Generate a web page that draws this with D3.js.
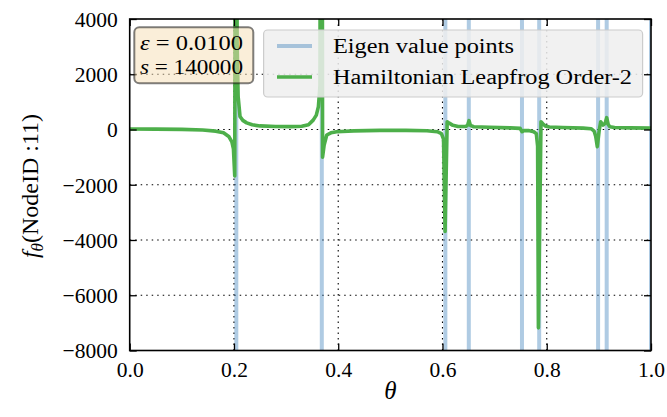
<!DOCTYPE html>
<html><head><meta charset="utf-8">
<script src="https://cdn.jsdelivr.net/npm/d3@7"></script>
<style>body{margin:0;background:#fff}svg{display:block}</style>
</head><body>
<svg id="chart" width="667" height="417"></svg>
<script>
// ---- data ----
const eigenThetas = [0.2045, 0.3685, 0.6055, 0.6505, 0.7525, 0.7855, 0.8985, 0.915, 1.0];
const curveTheta = [0.000, 0.050, 0.100, 0.140, 0.165, 0.180, 0.190, 0.196, 0.199, 0.2015, 0.2045, 0.2060, 0.2080, 0.2116, 0.2170, 0.2244, 0.235, 0.250, 0.280, 0.310, 0.330, 0.343, 0.352, 0.358, 0.362, 0.365, 0.3670, 0.3680, 0.3700, 0.3730, 0.3780, 0.3860, 0.3970, 0.430, 0.480, 0.530, 0.570, 0.590, 0.598, 0.602, 0.605, 0.6090, 0.6130, 0.6200, 0.630, 0.645, 0.6485, 0.651, 0.6535, 0.660, 0.690, 0.730, 0.749, 0.7525, 0.7560, 0.765, 0.775, 0.780, 0.7825, 0.784, 0.7890, 0.7930, 0.7970, 0.805, 0.830, 0.870, 0.885, 0.891, 0.894, 0.897, 0.9005, 0.9035, 0.908, 0.912, 0.915, 0.918, 0.921, 0.930, 0.960, 1.000];
const curveValue = [20, 15, 5, -20, -60, -120, -250, -450, -700, -1680, 30000, 3200, 1200, 470, 330, 240, 170, 130, 110, 105, 115, 170, 340, 520, 830, 1600, 30000, 30000, -1000, -560, -200, -120, -80, -50, -30, -30, -45, -80, -150, -350, -3690, 280, 230, 150, 110, 110, 170, 320, 150, 100, 80, 60, 40, -80, -40, -40, -80, -150, -600, -7180, 280, 200, 130, 90, 70, 50, 30, -60, -250, -620, -50, 280, 160, 220, 430, 180, 100, 70, 60, 50];
const xTicks = [0.0, 0.2, 0.4, 0.6, 0.8, 1.0];
const yTicks = [-8000, -6000, -4000, -2000, 0, 2000, 4000];
const legendLabels = ["Eigen value points", "Hamiltonian Leapfrog Order-2"];
const boxLines = [["ε", " = 0.0100"], ["s", " = 140000"]];

// ---- layout ----
const svg = d3.select("#chart");
const L = 129.7, R = 651, T = 19, B = 350.5;
const x = d3.scaleLinear().domain([0, 1]).range([L, R]);
const y = d3.scaleLinear().domain([-8000, 4000]).range([B, T]);
const serif = "'Liberation Serif', 'Times New Roman', serif";
const blue = "#377eb8", green = "#4daf4a";

svg.append("defs").append("clipPath").attr("id", "clip")
  .append("rect").attr("x", L).attr("y", T).attr("width", R - L).attr("height", B - T);

// grid
const grid = svg.append("g").attr("stroke", "#000").attr("stroke-width", 1.1).attr("stroke-dasharray", "1.5,4");
grid.selectAll(".gx").data(xTicks.slice(1, -1)).join("line")
  .attr("x1", d => x(d)).attr("x2", d => x(d)).attr("y1", T).attr("y2", B);
grid.selectAll(".gy").data(yTicks.slice(1, -1)).join("line")
  .attr("x1", L).attr("x2", R).attr("y1", d => y(d)).attr("y2", d => y(d));

const plot = svg.append("g").attr("clip-path", "url(#clip)");
// eigen lines
plot.selectAll(".eig").data(eigenThetas).join("line")
  .attr("x1", d => x(d)).attr("x2", d => x(d)).attr("y1", T - 5).attr("y2", B + 5)
  .attr("stroke", blue).attr("stroke-opacity", 0.4).attr("stroke-width", 4);
// curve
const pts = curveTheta.map((t, i) => [t, curveValue[i]]);
plot.append("path").datum(pts)
  .attr("d", d3.line().x(d => x(d[0])).y(d => y(d[1])))
  .attr("fill", "none").attr("stroke", green).attr("stroke-width", 3.6)
  .attr("stroke-linejoin", "round");

// axes with inward ticks
const fmtX = d3.format(".1f");
const axB = svg.append("g").attr("transform", `translate(0,${B})`)
  .call(d3.axisBottom(x).tickValues(xTicks).tickFormat(fmtX).tickSizeInner(-7).tickSizeOuter(0).tickPadding(11));
const axT = svg.append("g").attr("transform", `translate(0,${T})`)
  .call(d3.axisTop(x).tickValues(xTicks).tickFormat("").tickSizeInner(-7).tickSizeOuter(0));
const axL = svg.append("g").attr("transform", `translate(${L},0)`)
  .call(d3.axisLeft(y).tickValues(yTicks).tickFormat(d3.format("d")).tickSizeInner(-7).tickSizeOuter(0).tickPadding(12));
const axR = svg.append("g").attr("transform", `translate(${R},0)`)
  .call(d3.axisRight(y).tickValues(yTicks).tickFormat("").tickSizeInner(-7).tickSizeOuter(0));
[axB, axT, axL, axR].forEach(a => {
  a.select(".domain").remove();
  a.selectAll(".tick line").attr("stroke", "#000").attr("stroke-width", 1.3);
  a.selectAll("text").attr("font-family", serif).attr("font-size", 21.5).attr("fill", "#000");
});
axB.selectAll("text").attr("dy", "0.71em");
axL.selectAll("text").attr("dy", "0.34em");
svg.append("rect").attr("x", L).attr("y", T).attr("width", R - L).attr("height", B - T)
  .attr("fill", "none").attr("stroke", "#000").attr("stroke-width", 1.6);

// axis labels
svg.append("text").attr("x", x(0.5)).attr("y", 399).attr("text-anchor", "middle")
  .attr("font-family", serif).attr("font-size", 25).attr("font-style", "italic").text("θ");
const yl = svg.append("text").attr("transform", "translate(38,186) rotate(-90)")
  .attr("text-anchor", "middle").attr("font-family", serif).attr("font-size", 24);
yl.append("tspan").attr("font-style", "italic").text("f");
yl.append("tspan").attr("font-style", "italic").attr("font-size", 17).attr("dy", 5).text("θ");
yl.append("tspan").attr("dy", -5).text("(NodeID :11)");

// text box
svg.append("rect").attr("x", 134.3).attr("y", 27.3).attr("width", 119).attr("height", 56).attr("rx", 5)
  .attr("fill", "#f5deb3").attr("fill-opacity", 0.5).attr("stroke", "#000").attr("stroke-opacity", 0.5).attr("stroke-width", 2);
boxLines.forEach((ln, i) => {
  const t = svg.append("text").attr("x", 140).attr("y", 50 + i * 23.5)
    .attr("font-family", serif).attr("font-size", 21).attr("fill", "#000")
    .attr("textLength", 103).attr("lengthAdjust", "spacingAndGlyphs");
  t.append("tspan").attr("font-style", "italic").text(ln[0]);
  t.append("tspan").text(ln[1]);
});

// legend
const lg = svg.append("g");
lg.append("rect").attr("x", 263.6).attr("y", 30).attr("width", 379).attr("height", 67).attr("rx", 4)
  .attr("fill", "#efefef").attr("fill-opacity", 0.85).attr("stroke", "#cccccc").attr("stroke-width", 1.2);
const lgColors = [[blue, 0.4], [green, 1]];
legendLabels.forEach((lab, i) => {
  const yy = 46 + i * 31;
  lg.append("line").attr("x1", 277).attr("x2", 312).attr("y1", yy).attr("y2", yy)
    .attr("stroke", lgColors[i][0]).attr("stroke-opacity", lgColors[i][1]).attr("stroke-width", i ? 3.6 : 4);
  lg.append("text").attr("x", 333).attr("y", yy + 7).attr("font-family", serif).attr("font-size", 20)
    .attr("textLength", i ? 299 : 181).attr("lengthAdjust", "spacingAndGlyphs").text(lab);
});
</script>
</body></html>
